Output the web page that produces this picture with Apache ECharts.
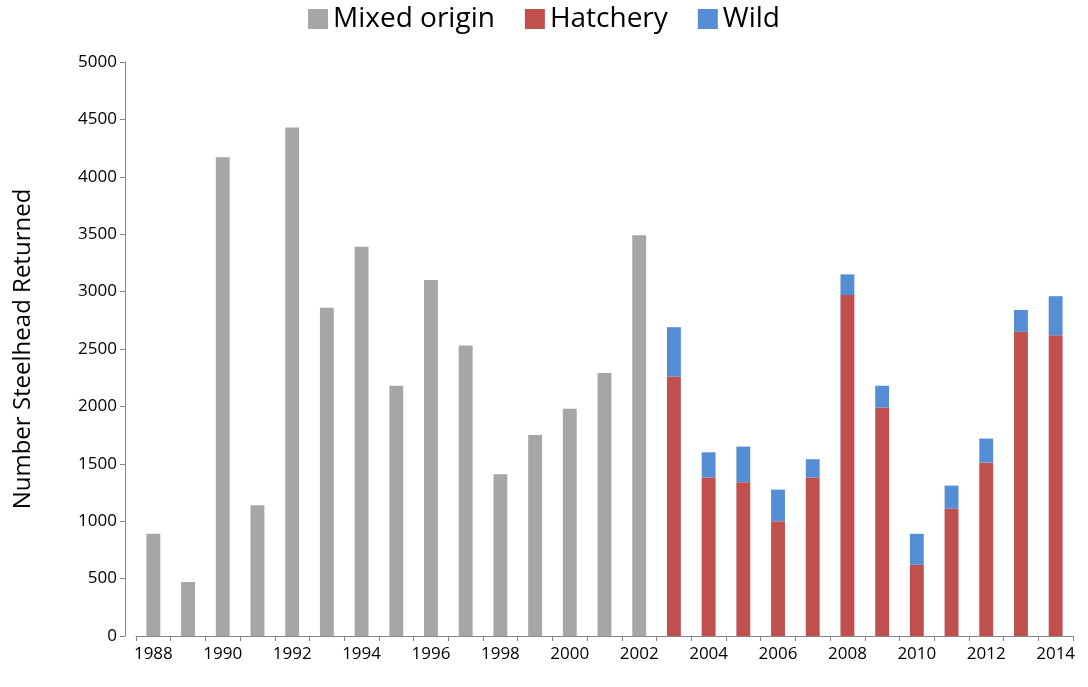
<!DOCTYPE html>
<html><head><meta charset="utf-8">
<script src="https://cdn.jsdelivr.net/npm/echarts@6/dist/echarts.min.js"></script>
<style>html,body{margin:0;padding:0;background:#fff}#c{width:1088px;height:687px}</style>
</head><body><div id="c"></div>
<script>
const years = ['1988','1989','1990','1991','1992','1993','1994','1995','1996','1997','1998','1999','2000','2001','2002','2003','2004','2005','2006','2007','2008','2009','2010','2011','2012','2013','2014'];
const mixed = [890,470,4170,1140,4430,2860,3390,2180,3100,2530,1410,1750,1980,2290,3490,null,null,null,null,null,null,null,null,null,null,null,null];
const hatchery = [null,null,null,null,null,null,null,null,null,null,null,null,null,null,null,2260,1380,1340,1000,1380,2970,1990,620,1110,1510,2650,2620];
const wild = [null,null,null,null,null,null,null,null,null,null,null,null,null,null,null,430,220,310,275,160,180,190,270,200,210,190,340];
const font = '"Open Sans", "Liberation Sans", sans-serif';
const chart = echarts.init(document.getElementById('c'));
chart.setOption({
  animation:false,
  textStyle:{fontFamily:font},
  legend:{top:0,left:'center',itemWidth:20,itemHeight:20,itemGap:30,icon:'rect',
    textStyle:{fontSize:28,color:'#000',fontFamily:font}},
  grid:{left:136,right:15,top:62,bottom:51},
  xAxis:{type:'category',data:years,
    axisLine:{lineStyle:{color:'#868686'}},
    axisTick:{show:true,interval:0,lineStyle:{color:'#868686'}},
    axisLabel:{interval:1,fontSize:17,color:'#000',fontFamily:font,margin:10}},
  yAxis:{type:'value',min:0,max:5000,interval:500,offset:11,
    name:'Number Steelhead Returned',nameLocation:'middle',nameGap:90,
    nameTextStyle:{fontSize:24,color:'#000',fontFamily:font},
    axisLine:{show:true,lineStyle:{color:'#868686'}},
    axisTick:{show:true,lineStyle:{color:'#868686'}},
    splitLine:{show:false},
    axisLabel:{fontSize:17,color:'#000',fontFamily:font,formatter:v=>String(v)}},
  series:[
    {name:'Mixed origin',type:'bar',stack:'a',data:mixed,barWidth:'40%',itemStyle:{color:'#a6a6a6'}},
    {name:'Hatchery',type:'bar',stack:'a',data:hatchery,itemStyle:{color:'#c0504d'}},
    {name:'Wild',type:'bar',stack:'a',data:wild,itemStyle:{color:'#558ed5'}}
  ]
});
</script></body></html>
